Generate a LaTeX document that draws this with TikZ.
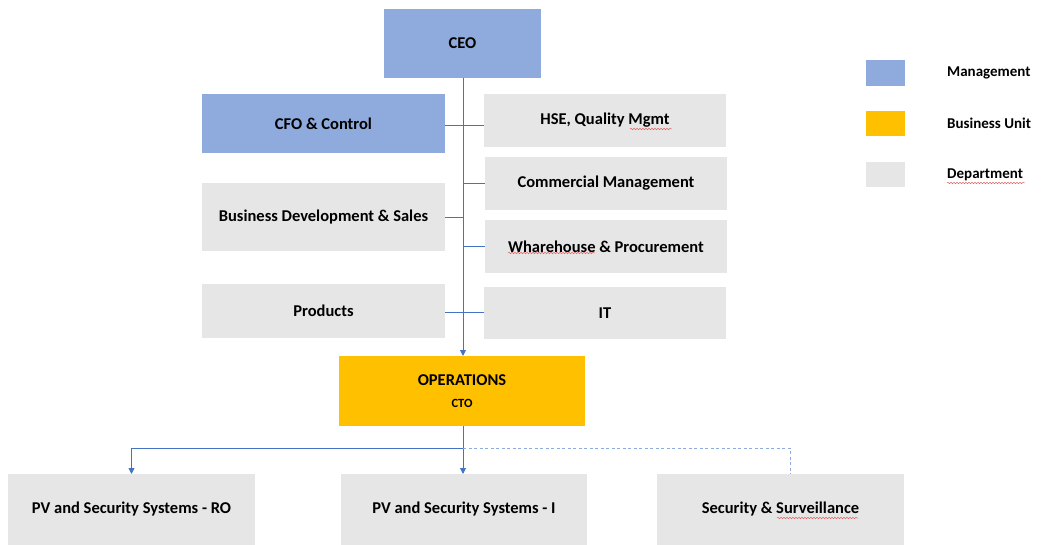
\documentclass[tikz,border=0pt]{standalone}
\usepackage{fontspec}
\setmainfont{Carlito}
\usetikzlibrary{arrows.meta,decorations.pathmorphing}
\definecolor{mgmt}{HTML}{8FAADC}
\definecolor{bunit}{HTML}{FFC000}
\definecolor{dept}{HTML}{E7E6E6}
\definecolor{conncol}{HTML}{4472C4}
\definecolor{dashcol}{HTML}{8FAADC}
\definecolor{squigcol}{HTML}{E06666}
\tikzset{
  box/.style={inner sep=0pt, outer sep=0pt, align=center, font=\fontsize{16.5}{19}\selectfont\bfseries, text=black},
  mbox/.style={box, fill=mgmt},
  ubox/.style={box, fill=bunit},
  dbox/.style={box, fill=dept},
  conn/.style={draw=conncol, line width=0.9pt},
  dconn/.style={draw=dashcol, line width=1pt, dash pattern=on 3pt off 2.5pt},
  tip/.style={-{Triangle[width=6pt,length=6pt]}},
  legsq/.style={inner sep=0pt, outer sep=0pt, minimum width=39pt, minimum height=26pt},
  leglab/.style={anchor=west, inner sep=0pt, font=\fontsize{15}{18}\selectfont\bfseries},
  squig/.style={draw=squigcol, line width=0.5pt, decorate, decoration={snake, amplitude=0.8pt, segment length=3pt}}
}
\begin{document}
\begin{tikzpicture}[x=1pt,y=-1pt]
\useasboundingbox (0,0) rectangle (1041,545);
% boxes
\node[mbox, minimum width=157pt, minimum height=69pt] (ceo) at (462.5,43.5) {CEO};
\node[mbox, minimum width=243pt, minimum height=59pt] (cfo) at (323.5,123.5) {CFO \& Control};
\node[dbox, minimum width=242pt, minimum height=53pt] (hse) at (605,120.5) {HSE, Quality Mgmt};
\node[dbox, minimum width=242pt, minimum height=53pt] (com) at (606,183.5) {Commercial Management};
\node[dbox, minimum width=243pt, minimum height=68pt] (bd) at (323.5,217) {Business Development \& Sales};
\node[dbox, minimum width=242pt, minimum height=53pt] (wh) at (606,246.5) {Wharehouse \& Procurement};
\node[dbox, minimum width=243pt, minimum height=54pt] (prod) at (323.5,311) {Products};
\node[dbox, minimum width=242pt, minimum height=52pt] (it) at (605,313) {IT};
\node[ubox, minimum width=246pt, minimum height=70pt] (ops) at (462,391) {OPERATIONS\\[3pt]{\fontsize{12.5}{14}\selectfont CTO}};
\node[dbox, minimum width=247pt, minimum height=71pt] (pv1) at (131.5,509.5) {PV and Security Systems - RO};
\node[dbox, minimum width=246pt, minimum height=71pt] (pv2) at (464,509.5) {PV and Security Systems - I};
\node[dbox, minimum width=247pt, minimum height=71pt] (ss) at (780.5,509.5) {Security \& Surveillance};
% legend
\node[legsq, fill=mgmt] (lm) at (885.5,73) {};
\node[legsq, fill=bunit, minimum height=25pt] (lb) at (885.5,123.5) {};
\node[legsq, fill=dept, minimum height=25pt] (ld) at (885.5,174.5) {};
\node[leglab] (lmt) at (947,73) {Management};
\node[leglab] (lbt) at (947,123.5) {Business Unit};
\node[leglab] (ldt) at (947,175) {Department};
% connectors
\coordinate (spine) at (463,0);
\draw[conn, tip] (spine |- ceo.south) -- (spine |- ops.north);
\draw[conn] (cfo.east |- 0,125) -- (hse.west |- 0,125);
\draw[conn] (spine |- com.west) -- (com.west);
\draw[conn] (bd.east) -- (spine |- bd.east);
\draw[conn] (spine |- wh.west) -- (wh.west);
\draw[conn] (prod.east |- 0,312) -- (it.west |- 0,312);
\coordinate (split) at (463,448);
\draw[conn] (spine |- ops.south) -- (split);
\draw[conn, tip] (split) -| (pv1.north);
\draw[conn, tip] (split) -- (spine |- pv2.north);
\coordinate (dend) at ([xshift=9.5pt]ss.north);
\draw[dconn] (split) -| (dend);
% spelling squiggles
\draw[squig] (630,129) -- (672,129);
\draw[squig] (508,253) -- (595,253);
\draw[squig] (777,518) -- (858,518);
\draw[squig] (947,183) -- (1025,183);
\end{tikzpicture}
\end{document}
